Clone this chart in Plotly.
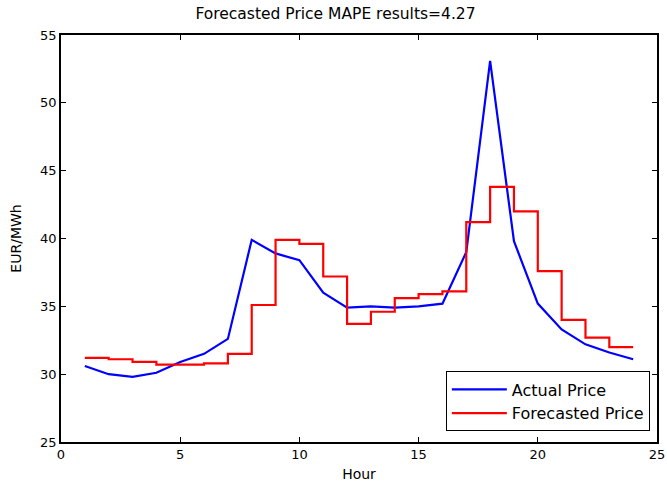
import plotly.graph_objects as go

hours = list(range(1, 25))
actual_price = [30.6, 30.0, 29.8, 30.1, 30.9, 31.5, 32.6, 39.9, 38.9, 38.4, 36.0, 34.9,
                35.0, 34.9, 35.0, 35.2, 39.0, 53.1, 39.8, 35.2, 33.3, 32.2, 31.6, 31.1]
forecast_price = [31.2, 31.1, 30.9, 30.7, 30.7, 30.8, 31.5, 35.1, 39.9, 39.6, 37.2, 33.7,
                  34.6, 35.6, 35.9, 36.1, 41.2, 43.8, 42.0, 37.6, 34.0, 32.7, 32.0, 32.0]
x_ticks = [0, 5, 10, 15, 20, 25]
y_ticks = [25, 30, 35, 40, 45, 50, 55]

FONT = "DejaVu Sans, Arial, sans-serif"

fig = go.Figure()
fig.add_trace(go.Scatter(x=hours, y=actual_price, mode="lines", name="Actual Price",
                         line=dict(color="#0000FF", width=2.2)))
fig.add_trace(go.Scatter(x=hours, y=forecast_price, mode="lines", name="Forecasted Price",
                         line=dict(color="#FF0000", width=2.2, shape="hv")))

axis_common = dict(showgrid=False, zeroline=False, showline=True, linecolor="black",
                   linewidth=1.5, mirror="ticks", ticks="inside", ticklen=5,
                   tickcolor="black", tickwidth=1, automargin=False,
                   tickfont=dict(family=FONT, size=13, color="black"))

fig.update_layout(
    width=667, height=485,
    margin=dict(l=61, r=10, t=35, b=43),
    paper_bgcolor="white", plot_bgcolor="white",
    title=dict(text="Forecasted Price MAPE results=4.27", x=0.503, xanchor="center",
               y=0.973, yref="container", yanchor="middle",
               font=dict(family=FONT, size=15.5, color="black")),
    xaxis=dict(range=[0, 25], tickvals=x_ticks,
               title=dict(text="Hour", font=dict(family=FONT, size=14, color="black"), standoff=8),
               **axis_common),
    yaxis=dict(range=[25, 55], tickvals=y_ticks,
               title=dict(text="EUR/MWh", font=dict(family=FONT, size=14, color="black"), standoff=15),
               **axis_common),
    legend=dict(x=0.988, y=0.026, xanchor="right", yanchor="bottom",
                bgcolor="white", bordercolor="black", borderwidth=1,
                font=dict(family=FONT, size=16, color="black"), tracegroupgap=0,
                itemwidth=55),
    showlegend=True,
)

fig.write_html("out.html", config={"displayModeBar": False},
               post_script="document.body.style.margin='0';")
